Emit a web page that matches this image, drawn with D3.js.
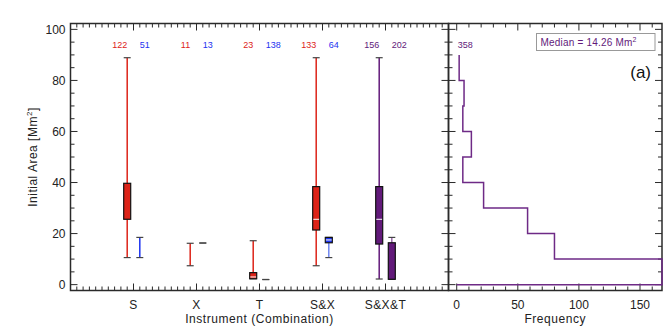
<!DOCTYPE html>
<html>
<head>
<meta charset="utf-8">
<script src="https://cdn.jsdelivr.net/npm/d3@7"></script>
<style>
  body { margin: 0; background: #fff; }
  svg { font-family: "Liberation Sans", Arial, sans-serif; }
</style>
</head>
<body>
<div id="chart"></div>
<script>
// categories on the left panel
const categories = ["S", "X", "T", "S&X", "S&X&T"];

// first / second group per category: [whiskerLow, q1, median, q3, whiskerHigh]
const statsA = [
  [10.6, 25.6, 25.6, 39.7, 88.9],
  [7.4, 16.2, 16.2, 16.2, 16.2],
  [2.3, 2.3, 3.0, 4.7, 17.2],
  [7.4, 21.4, 25.6, 38.4, 88.9],
  [2.2, 15.9, 25.6, 38.4, 88.9]
];
const statsB = [
  [10.6, 18.5, 18.5, 18.5, 18.5],
  [16.3, 16.3, 16.3, 16.3, 16.3],
  [2.0, 2.0, 2.0, 2.0, 2.0],
  [10.6, 16.4, 17.5, 18.5, 18.5],
  [2.1, 2.1, 2.1, 16.4, 18.5]
];
const countsA = [122, 11, 23, 133, 156];
const countsB = [51, 13, 138, 64, 202];

// histogram of initial area (bins of 10 Mm^2)
const binEdges = [0, 10, 20, 30, 40, 50, 60, 70, 80, 90];
const freq = [168, 80, 58, 22, 5, 12, 5, 6, 2];
const total = 358;
const medianText = "Median = 14.26 Mm";

const yTicks = [0, 20, 40, 60, 80, 100];
const freqTicks = [0, 50, 100, 150];

// colours
const red = "#dd2318", blue = "#1c33f0", purple = "#621a7a";
const colA = [red, red, red, red, purple];
const colB = [blue, blue, blue, blue, purple];
const whiskB = [blue, blue, blue, "#6f86f0", "#9a6aab"];
const axisCol = "#2a2a2a";

const W = 664, H = 336;
const svg = d3.select("#chart").append("svg").attr("width", W).attr("height", H);

const yTop = 23.5, yBot = 290.5;
const L = {x0: 70.5, x1: 448.5};
const R = {x0: 448.5, x1: 662};

const y = d3.scaleLinear().domain([-2.3, 102.3]).range([yBot, yTop]);
const x = d3.scaleLinear().domain([0, 6]).range([L.x0, L.x1]);
const fx = d3.scaleLinear().domain([-6.72, 168]).range([R.x0, R.x1]);

// ---- frames and ticks ----
function frame(x0, x1) {
  svg.append("rect").attr("x", x0).attr("y", yTop).attr("width", x1 - x0).attr("height", yBot - yTop)
    .attr("fill", "none").attr("stroke", axisCol).attr("stroke-width", 1.5);
}
frame(L.x0, L.x1);
frame(R.x0, R.x1);

const tickG = svg.append("g").attr("stroke", axisCol).attr("stroke-width", 1);

function yTicksAt(xp, dir) {
  d3.range(0, 101, 5).forEach(v => {
    const len = v % 20 === 0 ? 7 : 4;
    tickG.append("line").attr("x1", xp).attr("x2", xp + dir * len)
      .attr("y1", y(v)).attr("y2", y(v));
  });
}
yTicksAt(L.x0, 1);
yTicksAt(L.x1, -1);
yTicksAt(R.x0, 1);
yTicksAt(R.x1, -1);

function xTicksAt(scale, vals, isMajor) {
  vals.forEach(v => {
    const len = isMajor(v) ? 7 : 4;
    const xp = scale(v);
    tickG.append("line").attr("x1", xp).attr("x2", xp).attr("y1", yBot).attr("y2", yBot - len);
    tickG.append("line").attr("x1", xp).attr("x2", xp).attr("y1", yTop).attr("y2", yTop + len);
  });
}
xTicksAt(x, d3.range(1, 60).map(d => d / 10), v => Math.abs(v - Math.round(v)) < 1e-6);
xTicksAt(fx, d3.range(0, 161, 10), v => v % 50 === 0);

// tick labels
svg.append("g").selectAll("text").data(yTicks).join("text")
  .attr("x", L.x0 - 5).attr("y", d => y(d) + 4.5)
  .attr("text-anchor", "end").attr("font-size", 12).attr("fill", "#222")
  .text(d => d);

svg.append("g").selectAll("text").data(categories).join("text")
  .attr("x", (d, i) => x(i + 1)).attr("y", 309)
  .attr("text-anchor", "middle").attr("font-size", 12).attr("fill", "#222")
  .attr("letter-spacing", 0.4)
  .text(d => d);

svg.append("g").selectAll("text").data(freqTicks).join("text")
  .attr("x", d => fx(d)).attr("y", 309)
  .attr("text-anchor", "middle").attr("font-size", 12).attr("fill", "#222")
  .text(d => d);

// axis titles
svg.append("text").attr("x", (L.x0 + L.x1) / 2).attr("y", 323)
  .attr("text-anchor", "middle").attr("font-size", 12).attr("fill", "#222")
  .attr("letter-spacing", 0.55)
  .text("Instrument (Combination)");
svg.append("text").attr("x", (R.x0 + R.x1) / 2).attr("y", 323)
  .attr("text-anchor", "middle").attr("font-size", 12).attr("fill", "#222")
  .attr("letter-spacing", 0.55)
  .text("Frequency");

const yl = svg.append("text")
  .attr("transform", `translate(37,${(yTop + yBot) / 2}) rotate(-90)`)
  .attr("text-anchor", "middle").attr("font-size", 12).attr("fill", "#222")
  .attr("letter-spacing", 0.5);
yl.append("tspan").text("Initial Area [Mm");
yl.append("tspan").attr("dy", -5).attr("font-size", 8).text("2");
yl.append("tspan").attr("dy", 5).text("]");

// ---- box plots ----
const boxW = 7, capW = 7, off = 0.1;

function drawBox(s, cx, fill, wcol) {
  const g = svg.append("g");
  const [lo, q1, med, q3, hi] = s;
  // whisker
  if (hi > lo) {
    g.append("line").attr("x1", cx).attr("x2", cx).attr("y1", y(lo)).attr("y2", y(hi))
      .attr("stroke", wcol).attr("stroke-width", 1.5);
  }
  // caps
  [lo, hi].forEach(v => {
    g.append("line").attr("x1", cx - capW / 2).attr("x2", cx + capW / 2)
      .attr("y1", y(v)).attr("y2", y(v)).attr("stroke", "#444").attr("stroke-width", 1.2);
  });
  if (q3 - q1 > 0.5) {
    g.append("rect").attr("x", cx - boxW / 2).attr("y", y(q3))
      .attr("width", boxW).attr("height", y(q1) - y(q3))
      .attr("fill", fill).attr("stroke", "#111").attr("stroke-width", 1.2);
    if (med > q1 + 0.3 && med < q3 - 0.3) {
      g.append("line").attr("x1", cx - boxW / 2 + 0.6).attr("x2", cx + boxW / 2 - 0.6)
        .attr("y1", y(med)).attr("y2", y(med)).attr("stroke", "#fff").attr("stroke-width", 1);
    }
  }
}

categories.forEach((c, i) => {
  drawBox(statsA[i], x(i + 1 - off), colA[i], colA[i]);
  drawBox(statsB[i], x(i + 1 + off), colB[i], whiskB[i]);
});

// counts
svg.append("g").selectAll("text").data(countsA).join("text")
  .attr("x", (d, i) => x(i + 1 - off)).attr("y", 47.5)
  .attr("text-anchor", "end").attr("font-size", 9).attr("fill", (d, i) => colA[i])
  .text(d => d);
svg.append("g").selectAll("text").data(countsB).join("text")
  .attr("x", (d, i) => x(i + 1 + off)).attr("y", 47.5)
  .attr("text-anchor", "start").attr("font-size", 9).attr("fill", (d, i) => colB[i])
  .text(d => d);

// ---- histogram ----
const pts = [[0, 0], [freq[0], 0]];
freq.forEach((f, i) => {
  pts.push([f, binEdges[i]]);
  pts.push([f, binEdges[i + 1]]);
});
svg.append("path")
  .attr("d", d3.line().x(d => fx(d[0])).y(d => y(d[1]))(pts))
  .attr("fill", "none").attr("stroke", "#6e2a86").attr("stroke-width", 1.5);

svg.append("text").attr("x", fx(7)).attr("y", 47.5)
  .attr("text-anchor", "middle").attr("font-size", 9).attr("fill", purple)
  .text(total);

// median legend
svg.append("rect").attr("x", 536.5).attr("y", 33.5).attr("width", 118.5).attr("height", 17)
  .attr("fill", "#fff").attr("stroke", "#999").attr("stroke-width", 1);
const mt = svg.append("text").attr("x", 540.5).attr("y", 45.5)
  .attr("font-size", 10).attr("fill", purple).attr("letter-spacing", 0.2);
mt.append("tspan").text(medianText);
mt.append("tspan").attr("dy", -4).attr("font-size", 7).text("2");

svg.append("text").attr("x", 651).attr("y", 78)
  .attr("text-anchor", "end").attr("font-size", 17).attr("fill", "#111")
  .text("(a)");
</script>
</body>
</html>
